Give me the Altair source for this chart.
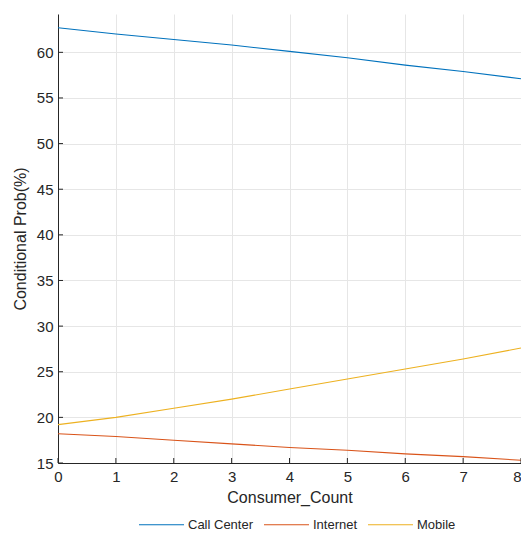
import altair as alt
import pandas as pd

x_vals = [0, 1, 2, 3, 4, 5, 6, 7, 8]
call_center = [62.7, 62.0, 61.4, 60.8, 60.1, 59.4, 58.6, 57.9, 57.1]
internet = [18.2, 17.9, 17.5, 17.1, 16.7, 16.4, 16.0, 15.7, 15.3]
mobile = [19.2, 20.0, 21.0, 22.0, 23.1, 24.2, 25.3, 26.4, 27.6]
series = ["Call Center", "Internet", "Mobile"]
colors = ["#0072BD", "#D95319", "#EDB120"]
x_ticks = [0, 1, 2, 3, 4, 5, 6, 7, 8]
y_ticks = [15, 20, 25, 30, 35, 40, 45, 50, 55, 60]

rows = []
for name, vals in zip(series, [call_center, internet, mobile]):
    for xv, yv in zip(x_vals, vals):
        rows.append({"Consumer_Count": xv, "Prob": yv, "Channel": name})
df = pd.DataFrame(rows)

FONT = "Liberation Sans"
W, H = 463, 449
xscale = alt.Scale(domain=[0, 8], nice=False, zero=False)
yscale = alt.Scale(domain=[15, 64.2], nice=False, zero=False)

lines = alt.Chart(df).mark_line(strokeWidth=1.1, clip=True).encode(
    x=alt.X("Consumer_Count:Q", scale=xscale,
            axis=alt.Axis(values=x_ticks, title="Consumer_Count", format="d",
                          labelPadding=6, titlePadding=5, labelFlush=False,
                          labelAlign=alt.ExprRef(expr="datum.value == 8 ? 'right' : 'center'"))),
    y=alt.Y("Prob:Q", scale=yscale,
            axis=alt.Axis(values=y_ticks, title="Conditional Prob(%)",
                          labelPadding=5, titlePadding=8, labelFlush=False)),
    color=alt.Color("Channel:N", scale=alt.Scale(domain=series, range=colors),
                    legend=alt.Legend(orient="none", legendX=80, legendY=487,
                                      title=None, direction="horizontal",
                                      symbolType="stroke", symbolSize=2025,
                                      symbolStrokeWidth=1.2, labelFontSize=13,
                                      labelFont=FONT, labelColor="#262626",
                                      columnPadding=7, labelOffset=3)),
)

xt = alt.Chart(pd.DataFrame({"t": x_ticks})).mark_rule(color="#262626", strokeWidth=1).encode(
    x=alt.X("t:Q", scale=xscale), y=alt.value(H), y2=alt.value(H - 5))
yt = alt.Chart(pd.DataFrame({"t": y_ticks})).mark_rule(color="#262626", strokeWidth=1).encode(
    y=alt.Y("t:Q", scale=yscale), x=alt.value(0), x2=alt.value(5))

chart = alt.layer(lines, xt, yt).properties(
    width=W, height=H,
    autosize=alt.AutoSizeParams(type="none"),
    padding={"left": 50, "top": 6, "right": 0, "bottom": 68},
).configure_view(stroke=None).configure_axis(
    labelFont=FONT, titleFont=FONT, labelFontSize=15, titleFontSize=16,
    labelColor="#262626", titleColor="#262626", titleFontWeight="normal",
    domainColor="#262626", domainWidth=1, tickSize=0,
    gridColor="#e6e6e6", gridWidth=1,
)

chart.save("out.html", embed_options={"renderer": "svg", "actions": False})
